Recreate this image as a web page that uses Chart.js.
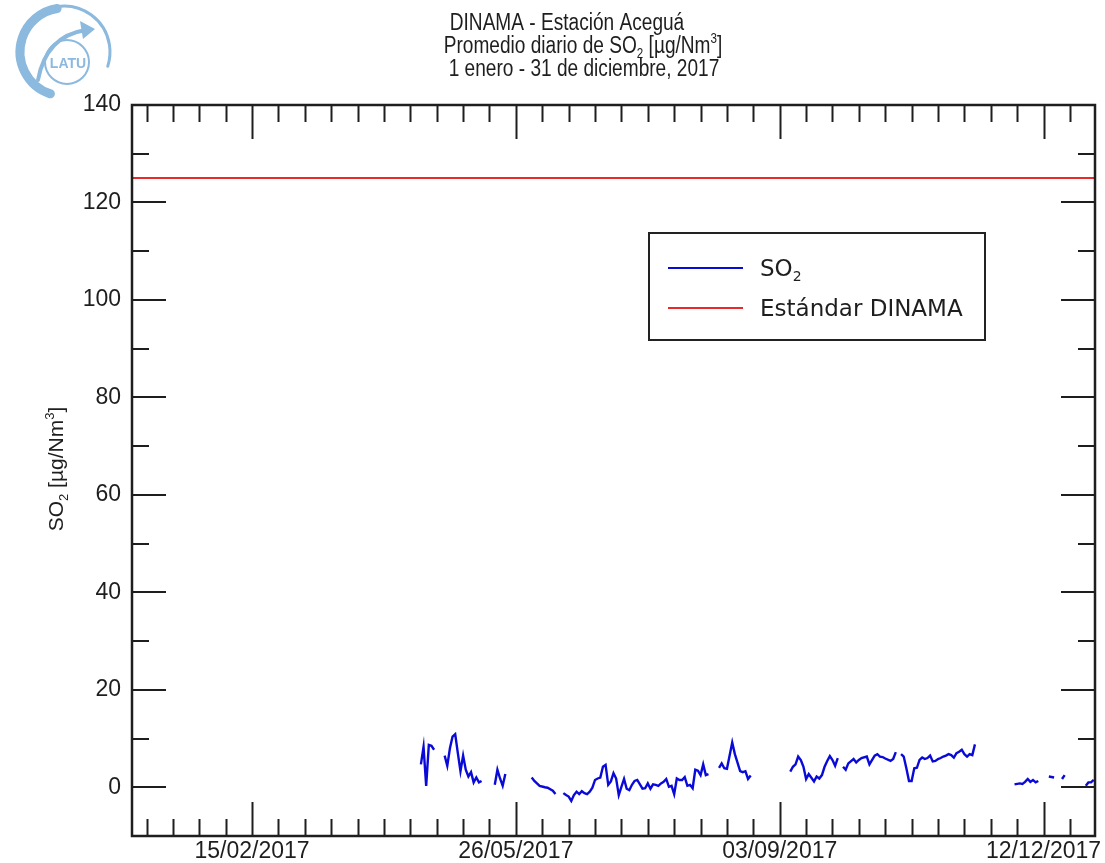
<!DOCTYPE html>
<html>
<head>
<meta charset="utf-8">
<script src="https://cdn.jsdelivr.net/npm/chart.js@4.4.1/dist/chart.umd.min.js"></script>
<style>
html, body { margin: 0; padding: 0; background: #fff; }
canvas { display: block; }
</style>
</head>
<body>
<canvas id="grafico" width="1105" height="863"></canvas>
<script>
// daily SO2 means, x = day of year (0 = 1 Jan 2017); null breaks the line
const so2Days = [
	109, 110, 111, 112, 113, 114, 116,
	118, 119, 120, 121, 122, 123, 124, 125, 126, 127, 128, 129, 130, 131, 132, 134,
	137, 138, 139, 140, 141, 145,
	151, 152, 154, 156, 157, 159, 160, 161,
	163, 164, 165, 166, 167, 168, 169, 170, 171, 172, 173, 174, 175, 176, 177, 178, 179, 180, 181, 182,
	183, 184, 185, 186, 187, 188, 189, 190, 191,
	193, 194, 195, 196, 197, 198, 199, 200, 201, 202, 203, 204, 205, 206, 207, 208, 209, 210, 211, 212,
	213, 214, 215, 216, 217, 218, 220,
	222, 223, 224, 225, 227, 228, 230, 231, 232, 233, 234, 240,
	249, 250, 251, 252, 253, 254, 255, 256, 258, 259, 260, 261, 262, 263, 264, 265, 266, 267, 268,
	269, 270, 271, 273, 274, 275, 276, 278, 279, 281, 282, 283, 284, 285, 287, 288, 289, 290,
	291, 292, 293, 294, 295, 296, 297, 298, 299, 300, 301, 302, 303, 304, 305, 306, 307, 308, 309, 310,
	311, 312, 313, 314, 315, 316, 317, 318, 319, 325,
	334, 336, 337, 338, 339, 340, 341, 342, 343, 345,
	347, 349, 350,
	352, 353, 356,
	361, 362, 363, 364
];
const so2Values = [
	4.7, 8.3, 0.3, 8.7, 8.5, 7.7, null,
	6.5, 4.4, 8.0, 10.4, 10.9, 7.0, 3.3, 6.5, 3.6, 2.2, 3.1, 1.0, 2.0, 1.0, 1.3, null,
	0.5, 3.6, 1.8, 0.3, 2.7, null,
	2.0, 1.3, 0.3, 0.0, -0.1, -0.7, -1.4, null,
	-1.2, -1.6, -1.9, -2.8, -1.6, -0.9, -1.4, -0.8, -1.2, -1.4, -0.9, -0.1, 1.5, 1.8, 2.0, 4.2, 4.6, 0.5, 1.2, 2.9,
	1.8, -1.6, 0.1, 1.7, -0.3, -0.6, 0.5, 1.3, 1.5,
	-0.3, -0.2, 0.8, -0.3, 0.6, 0.5, 0.3, 0.8, 1.1, 1.7, 0.1, 0.3, -1.4, 1.8, 1.5, 1.5, 2.1, 0.3, 0.5, -0.2,
	3.6, 3.4, 2.5, 4.7, 2.5, 2.7, null,
	4.0, 4.9, 3.9, 3.8, 9.2, 6.8, 3.3, 3.1, 3.3, 1.7, 2.4, null,
	3.2, 4.2, 4.7, 6.3, 5.6, 4.2, 1.7, 2.7, 1.2, 2.2, 1.8, 2.5, 4.2, 5.4, 6.4, 5.6, 4.4, 6.0, null,
	4.2, 3.6, 4.9, 5.8, 5.1, 5.6, 6.0, 6.3, 4.7, 6.5, 6.8, 6.3, 6.2, 5.9, 5.4, 5.8, 7.2, null,
	6.8, 6.3, 3.9, 1.3, 1.3, 3.9, 4.0, 5.6, 6.1, 5.8, 6.0, 6.5, 5.3, 5.4, 5.8, 6.0, 6.3, 6.5, 6.8, 6.6,
	6.1, 7.0, 7.3, 7.7, 6.8, 6.3, 6.8, 6.6, 8.8, null,
	0.6, 0.8, 0.7, 1.1, 1.7, 1.1, 1.5, 1.0, 1.3, null,
	2.2, 2.0, null,
	1.7, 2.5, null,
	0.3, 1.0, 1.0, 1.5
];
const standardValue = 125;

const tickDays = [5, 15, 25, 35, 45, 55, 65, 75, 85, 95, 105, 115, 125, 135, 145, 155, 165, 175, 185,
	195, 205, 215, 225, 235, 245, 255, 265, 275, 285, 295, 305, 315, 325, 335, 345, 355];
const labelDays = [45, 145, 245, 345];
const tickLabels = ['15/02/2017', '26/05/2017', '03/09/2017', '12/12/2017'];

const seriesNames = [[{ t: 'SO' }, { t: '2', sub: true }], [{ t: 'Estándar DINAMA' }]];
const titleLines = [
	[{ t: 'DINAMA - Estación Aceguá' }],
	[{ t: 'Promedio diario de SO' }, { t: '2', sub: true }, { t: ' [µg/Nm' }, { t: '3', sup: true }, { t: ']' }],
	[{ t: '1 enero - 31 de diciembre, 2017' }]
];
const yTitle = [{ t: 'SO' }, { t: '2', sub: true }, { t: ' [µg/Nm' }, { t: '3', sup: true }, { t: ']' }];

const BLUE = '#0a0ad8';
const RED = '#e82a2a';
const INK = '#1e1e1e';

// text with sub/superscripts, centred on cx
function richText(ctx, parts, cx, y, size, family, sx) {
	const small = Math.round(size * 0.62);
	let w = 0;
	parts.forEach(p => {
		ctx.font = (p.sub || p.sup ? small : size) + 'px ' + family;
		p.w = ctx.measureText(p.t).width;
		w += p.w;
	});
	ctx.save();
	ctx.translate(cx, y);
	ctx.scale(sx || 1, 1);
	ctx.textAlign = 'left';
	ctx.textBaseline = 'alphabetic';
	let x = -w / 2;
	parts.forEach(p => {
		ctx.font = (p.sub || p.sup ? small : size) + 'px ' + family;
		let dy = p.sub ? size * 0.22 : (p.sup ? -size * 0.45 : 0);
		ctx.fillText(p.t, x, dy);
		x += p.w;
	});
	ctx.restore();
	return w;
}

function drawLogo(ctx) {
	ctx.save();
	ctx.strokeStyle = '#8cb9de';
	ctx.fillStyle = '#8cb9de';
	ctx.lineCap = 'round';
	ctx.lineWidth = 9;
	ctx.beginPath();
	ctx.arc(64, 52, 44, 0.6 * Math.PI, 1.45 * Math.PI);
	ctx.stroke();
	ctx.lineWidth = 3;
	ctx.beginPath();
	ctx.arc(64, 52, 46, 1.45 * Math.PI, 2.1 * Math.PI);
	ctx.stroke();
	ctx.lineWidth = 2;
	ctx.beginPath();
	ctx.arc(67, 62, 22, 0, 2 * Math.PI);
	ctx.stroke();
	ctx.lineWidth = 4;
	ctx.beginPath();
	ctx.moveTo(38, 80);
	ctx.quadraticCurveTo(46, 36, 86, 30);
	ctx.stroke();
	ctx.beginPath();
	ctx.moveTo(95, 29);
	ctx.lineTo(80, 21);
	ctx.lineTo(83, 39);
	ctx.closePath();
	ctx.fill();
	ctx.font = 'bold 14px "Liberation Sans"';
	ctx.textAlign = 'center';
	ctx.textBaseline = 'middle';
	ctx.fillText('LATU', 68, 64);
	ctx.restore();
}

const marcoPlugin = {
	id: 'marco',
	afterDatasetsDraw(chart) {
		const ctx = chart.ctx;
		const a = chart.chartArea;
		const x = chart.scales.x, y = chart.scales.y;
		ctx.save();
		ctx.strokeStyle = INK;
		ctx.lineWidth = 2;
		ctx.beginPath();
		tickDays.forEach(d => {
			const px = Math.round(x.getPixelForValue(d)) + 0.5;
			const len = labelDays.includes(d) ? 34 : 17;
			ctx.moveTo(px, a.bottom); ctx.lineTo(px, a.bottom - len);
			ctx.moveTo(px, a.top); ctx.lineTo(px, a.top + len);
		});
		y.ticks.forEach(t => {
			const py = Math.round(y.getPixelForValue(t.value));
			const len = t.value % 20 === 0 ? 34 : 17;
			ctx.moveTo(a.left, py); ctx.lineTo(a.left + len, py);
			ctx.moveTo(a.right, py); ctx.lineTo(a.right - len, py);
		});
		ctx.stroke();
		ctx.lineWidth = 2.5;
		ctx.strokeRect(a.left, a.top, a.right - a.left, a.bottom - a.top);
		ctx.restore();
	},
	afterDraw(chart) {
		const ctx = chart.ctx;
		ctx.save();
		ctx.fillStyle = INK;
		const fam = '"Liberation Sans", Arial, sans-serif';
		richText(ctx, titleLines[0], 567, 30, 23, fam, 0.83);
		richText(ctx, titleLines[1], 583, 53, 23, fam, 0.83);
		richText(ctx, titleLines[2], 584, 76, 23, fam, 0.83);

		ctx.save();
		ctx.translate(63, 469);
		ctx.rotate(-Math.PI / 2);
		richText(ctx, yTitle, 0, 0, 21, fam, 1);
		ctx.restore();

		// legend box
		ctx.strokeStyle = '#222';
		ctx.lineWidth = 2;
		ctx.strokeRect(649, 233, 336, 107);
		const colors = [BLUE, RED];
		const ly = [268, 308];
		seriesNames.forEach((parts, i) => {
			ctx.strokeStyle = colors[i];
			ctx.lineWidth = 2;
			ctx.beginPath();
			ctx.moveTo(668, ly[i]); ctx.lineTo(743, ly[i]);
			ctx.stroke();
			ctx.fillStyle = INK;
			let w = 0;
			parts.forEach(p => {
				ctx.font = (p.sub ? '14px' : '23px') + ' "DejaVu Sans"';
				w += ctx.measureText(p.t).width;
			});
			richText(ctx, parts, 760 + w / 2, ly[i] + 8, 23, '"DejaVu Sans"', 1);
		});
		drawLogo(ctx);
		ctx.restore();
	}
};

const so2Points = so2Days.map((d, i) => ({ x: d, y: so2Values[i] }));

new Chart(document.getElementById('grafico'), {
	type: 'line',
	data: {
		datasets: [
			{
				label: 'SO2',
				data: so2Points,
				borderColor: BLUE,
				borderWidth: 2.4,
				pointRadius: 0,
				tension: 0,
				spanGaps: false
			},
			{
				label: 'Estándar DINAMA',
				data: [{ x: -0.5, y: standardValue }, { x: 364.5, y: standardValue }],
				borderColor: RED,
				borderWidth: 2,
				pointRadius: 0
			}
		]
	},
	options: {
		responsive: false,
		animation: false,
		devicePixelRatio: 1,
		layout: { padding: { top: 105, right: 10, left: 0, bottom: 0 } },
		plugins: {
			legend: { display: false },
			title: { display: false },
			tooltip: { enabled: false }
		},
		scales: {
			x: {
				type: 'linear',
				min: -0.5,
				max: 364.5,
				grid: { display: false, drawTicks: false },
				border: { display: false },
				afterBuildTicks: s => { s.ticks = tickDays.map(v => ({ value: v })); },
				afterFit: s => { s.height = 27; },
				ticks: {
					autoSkip: false,
					maxRotation: 0,
					padding: 2,
					color: INK,
					font: { family: '"Liberation Sans", Arial, sans-serif', size: 23 },
					callback: v => {
						const k = labelDays.indexOf(v);
						return k >= 0 ? tickLabels[k] : '';
					}
				}
			},
			y: {
				min: -10,
				max: 140,
				grid: { display: false, drawTicks: false },
				border: { display: false },
				afterFit: s => { s.width = 132; },
				ticks: {
					stepSize: 5,
					padding: 11,
					color: INK,
					font: { family: '"Liberation Sans", Arial, sans-serif', size: 23 },
					callback: v => (v % 20 === 0 ? v : '')
				}
			}
		}
	},
	plugins: [marcoPlugin]
});
</script>
</body>
</html>
